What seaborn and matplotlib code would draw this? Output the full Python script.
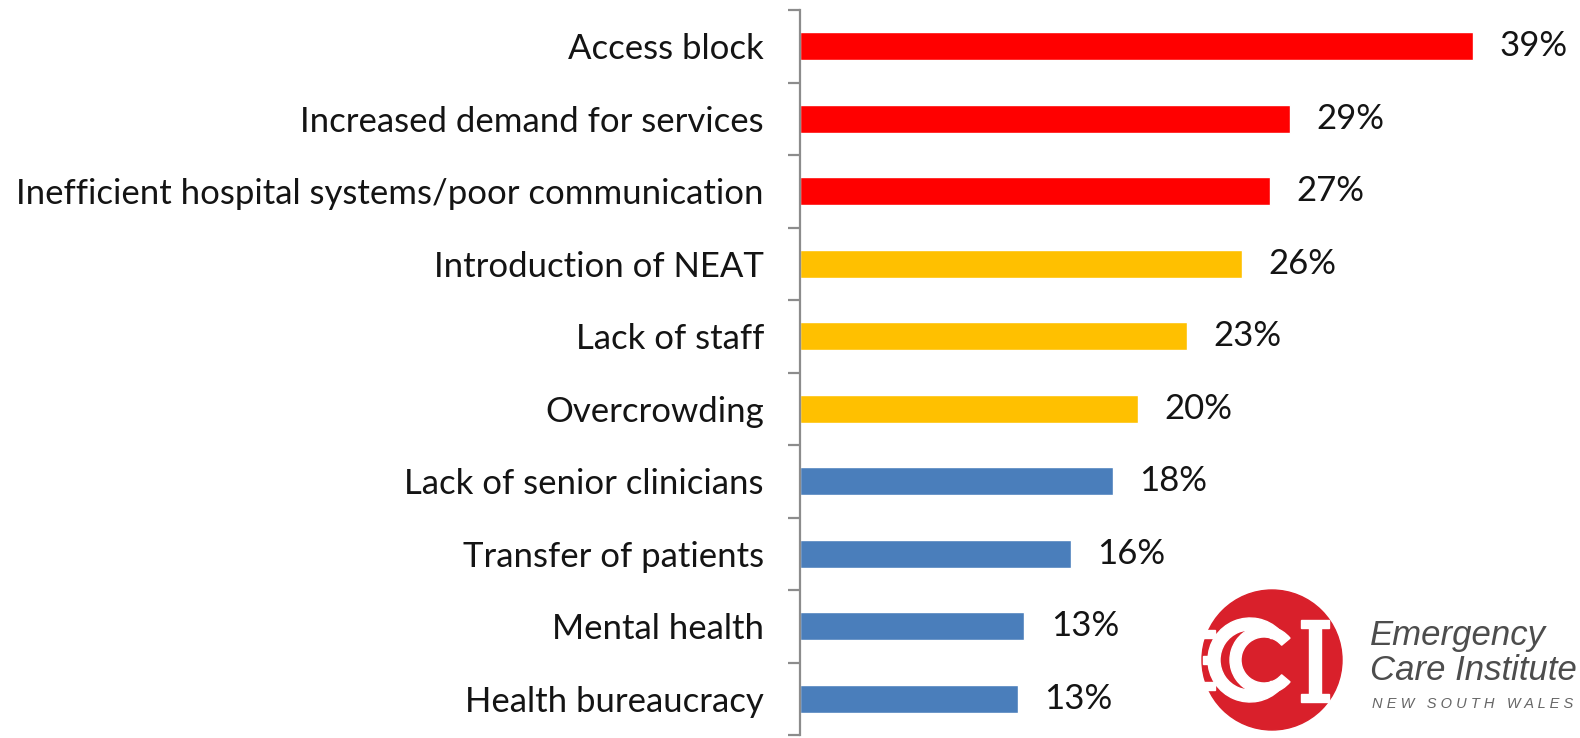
import matplotlib
matplotlib.use("Agg")
import matplotlib.pyplot as plt
from matplotlib.patches import Circle, Wedge, Rectangle
import pandas as pd
import seaborn as sns

# Survey: main causes of ED pressure (share of respondents)
categories = [
    "Access block",
    "Increased demand for services",
    "Inefficient hospital systems/poor communication",
    "Introduction of NEAT",
    "Lack of staff",
    "Overcrowding",
    "Lack of senior clinicians",
    "Transfer of patients",
    "Mental health",
    "Health bureaucracy",
]
values = [39.0, 28.4, 27.2, 25.6, 22.4, 19.6, 18.1, 15.7, 13.0, 12.6]
value_labels = ["39%", "29%", "27%", "26%", "23%", "20%", "18%", "16%", "13%", "13%"]
bar_colors = ["#FF0000"] * 3 + ["#FFC000"] * 3 + ["#4A7EBB"] * 4

sns.set_style("white")
plt.rcParams["font.family"] = ["Lato", "DejaVu Sans"]

df = pd.DataFrame({"category": categories, "value": values})

W, H = 1580, 738
fig = plt.figure(figsize=(W / 100, H / 100), dpi=100)
ax = fig.add_axes([800 / W, 1 - 735 / H, 777 / W, 725 / H])

sns.barplot(
    data=df, x="value", y="category", hue="category",
    palette=dict(zip(categories, bar_colors)), legend=False,
    orient="h", width=0.39, saturation=1, ax=ax,
)

ax.set_xlim(0, 45)
ax.set_ylim(len(categories) - 0.5, -0.5)
ax.set_xlabel("")
ax.set_ylabel("")
ax.set_xticks([])

for side in ["top", "right", "bottom"]:
    ax.spines[side].set_visible(False)
ax.spines["left"].set_color("#8c8c8c")
ax.spines["left"].set_linewidth(1.6)

# ticks sit between categories, labels at the bar centres
ax.set_yticks([i - 0.5 for i in range(len(categories) + 1)], minor=True)
ax.tick_params(axis="y", which="minor", left=True, length=9, width=1.6,
               color="#8c8c8c")
ax.tick_params(axis="y", which="major", left=True, length=0, pad=26,
               labelsize=25, labelcolor="#141414")

for i, (v, lab) in enumerate(zip(values, value_labels)):
    ax.annotate(lab, (v, i), xytext=(19, 0), textcoords="offset points",
                va="center", ha="left", fontsize=25, color="#141414")

# Emergency Care Institute logo (approximate)
lax = fig.add_axes([0, 0, 1, 1], zorder=5)
lax.set_xlim(0, W)
lax.set_ylim(H, 0)
lax.set_aspect("equal")
lax.axis("off")
red = "#D9202B"
lax.add_patch(Circle((1272, 660), 70, color=red))
lax.add_patch(Wedge((1250, 660), 42, 45, 315, width=12, color="white"))
lax.add_patch(Wedge((1264, 660), 34, 40, 320, width=11, color="white"))
for yy in (634, 660, 686):
    lax.add_patch(Rectangle((1203, yy - 4), 12, 8, color="white"))
lax.add_patch(Rectangle((1309, 624), 12, 74, color="white"))
lax.add_patch(Rectangle((1301, 620), 28, 8, color="white"))
lax.add_patch(Rectangle((1301, 694), 28, 8, color="white"))

logo_font = ["Liberation Sans", "DejaVu Sans"]
lax.text(1370, 645, "Emergency", fontsize=25, style="italic", color="#4d4d4d",
         family=logo_font, va="baseline")
lax.text(1370, 680, "Care Institute", fontsize=25, style="italic", color="#4d4d4d",
         family=logo_font, va="baseline")
lax.text(1372, 708, "N E W   S O U T H   W A L E S", fontsize=10.5, style="italic",
         color="#666666", family=logo_font, va="baseline")

fig.savefig("out.png", dpi=100)
